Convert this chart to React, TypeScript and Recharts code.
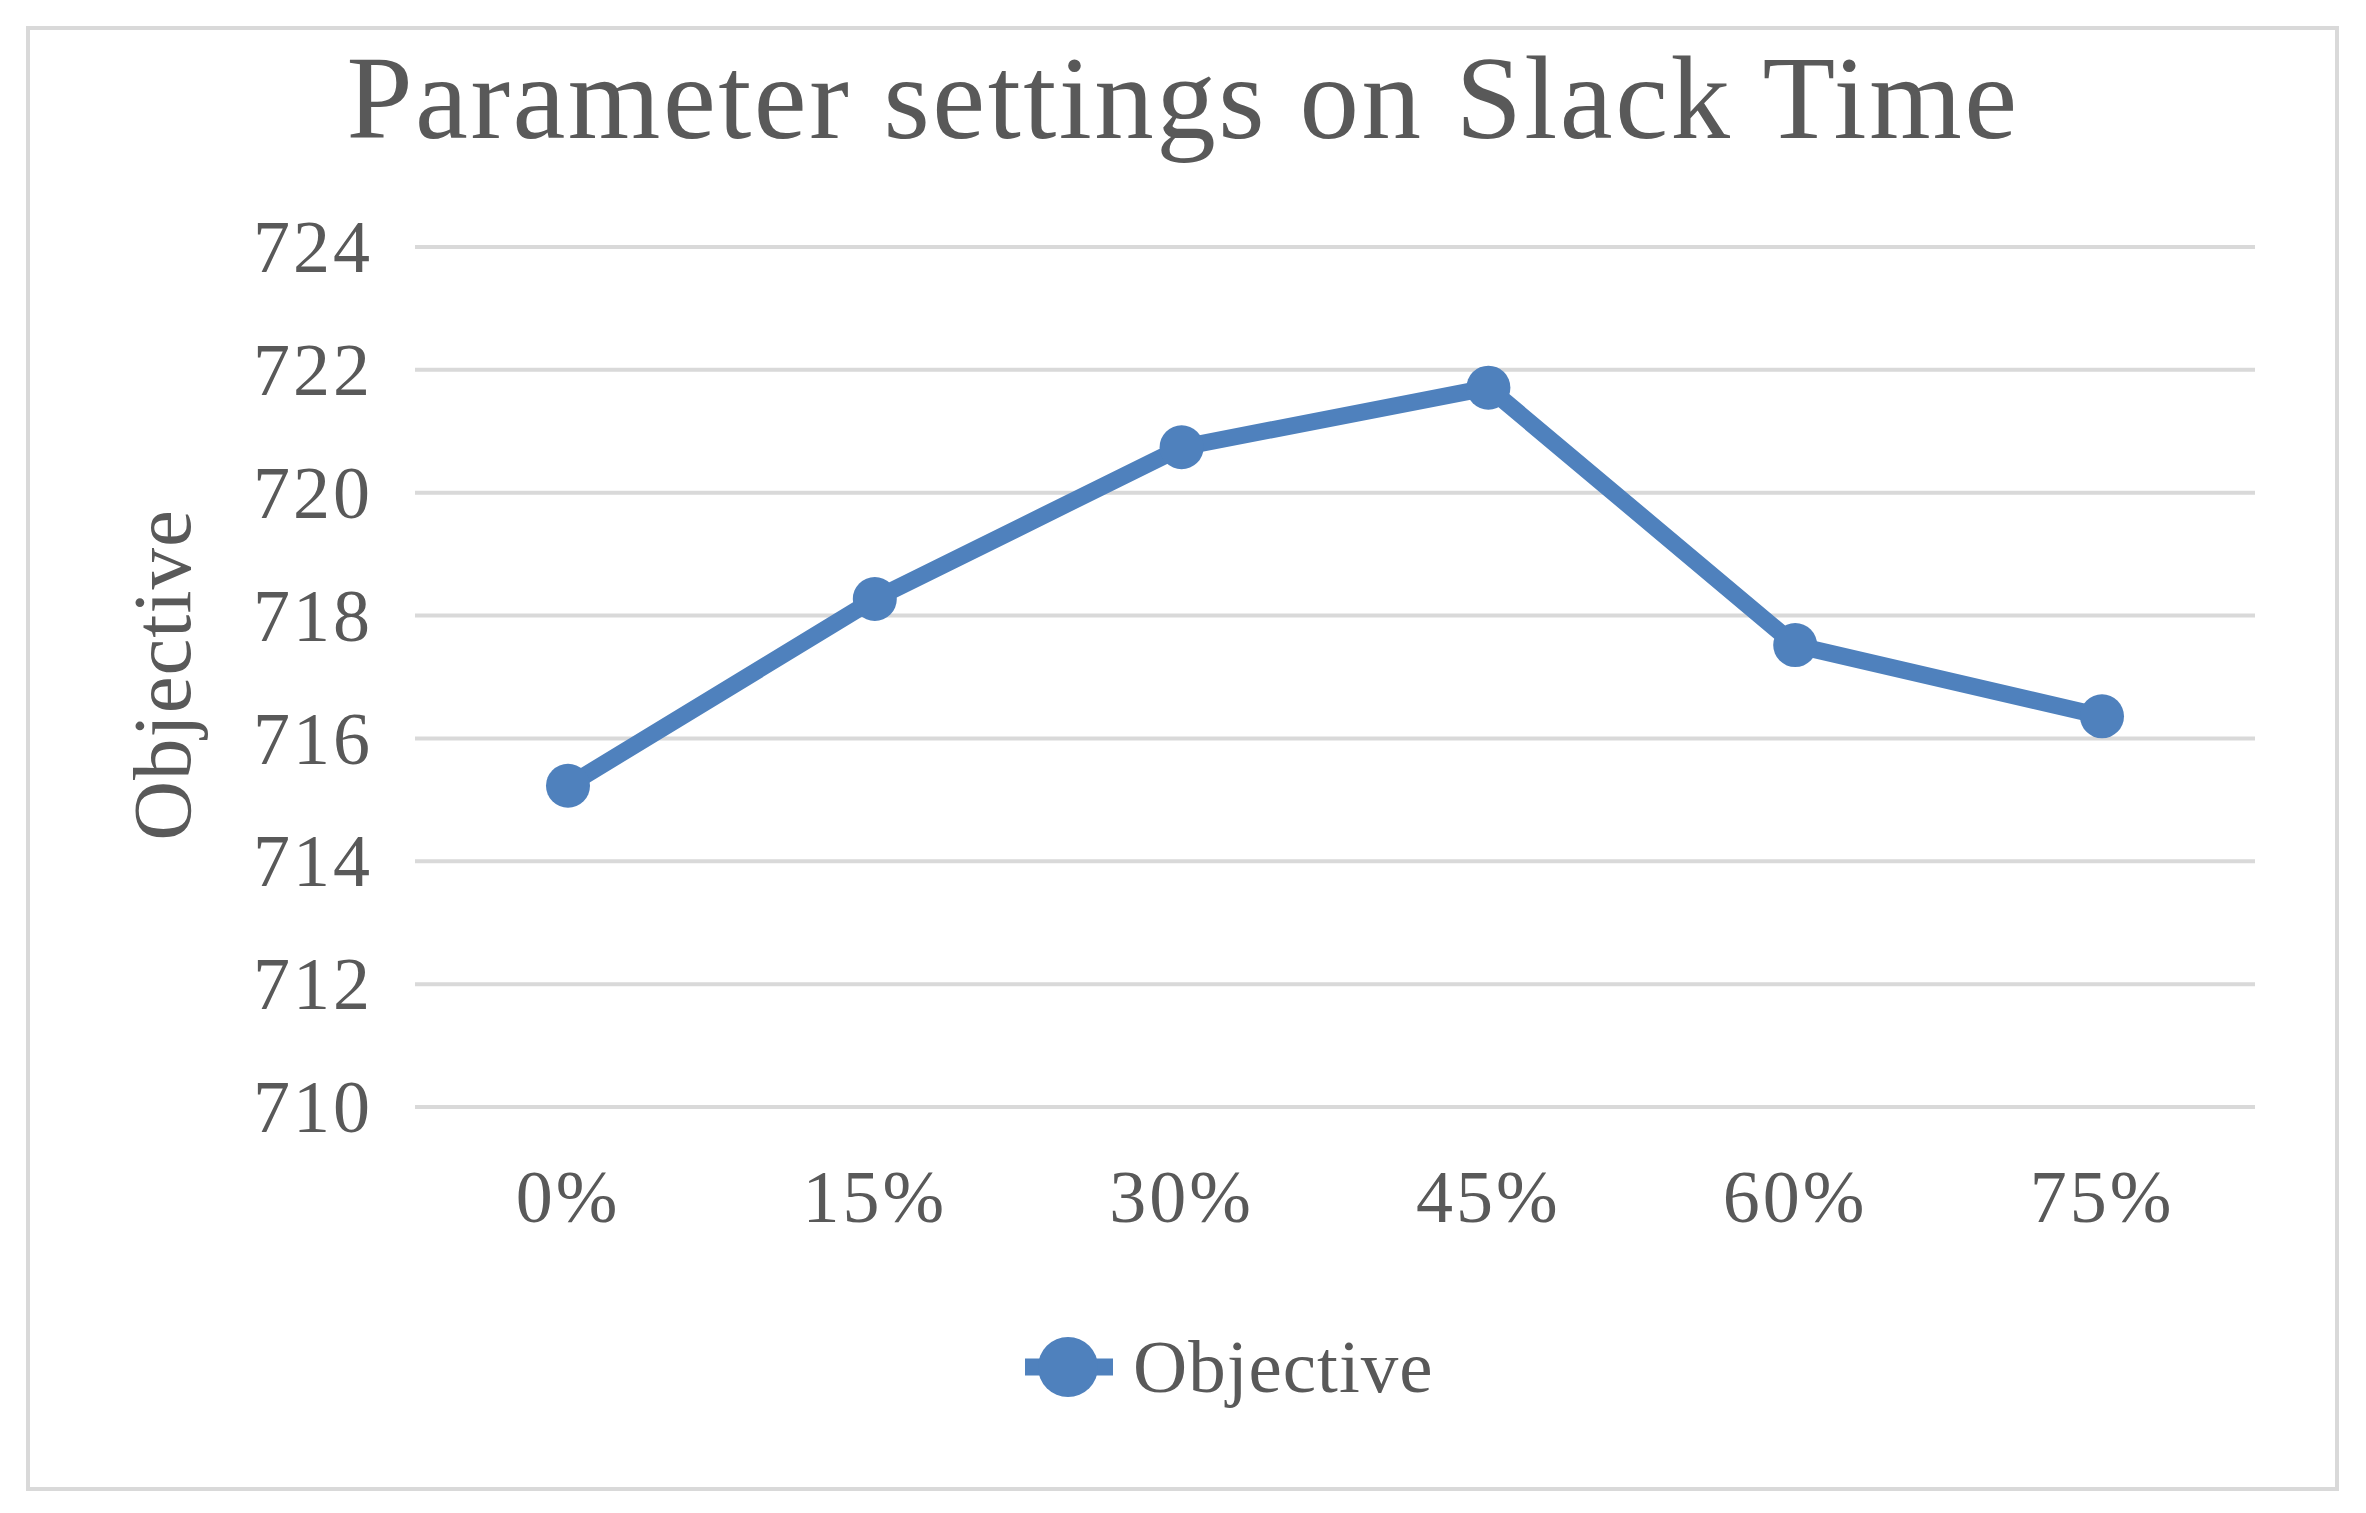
import { LineChart, Line, XAxis, YAxis, CartesianGrid, Legend } from 'recharts';

const categories = ['0%', '15%', '30%', '45%', '60%', '75%'];
const objectiveValues = [715.23, 718.27, 720.74, 721.71, 717.52, 716.36];
const yTicks = [710, 712, 714, 716, 718, 720, 722, 724];

const chartTitle = 'Parameter settings on Slack Time';
const seriesName = 'Objective';
const yAxisTitle = 'Objective';

const data = categories.map((slack, i) => ({ slack, objective: objectiveValues[i] }));

const BLUE = '#4f81bd';
const TEXT = '#595959';
const GRID = '#d9d9d9';
const FONT = '"Liberation Serif", "Times New Roman", serif';

const YTick = (props: any) => {
  const { x, y, payload } = props;
  return (
    <text x={x} y={y} dy="0.34em" textAnchor="end" fill={TEXT} fontSize={74} fontFamily={FONT} letterSpacing={3}>
      {payload.value}
    </text>
  );
};

const XTick = (props: any) => {
  const { x, y, payload } = props;
  return (
    <text x={x} y={y + 115} textAnchor="middle" fill={TEXT} fontSize={74} fontFamily={FONT} letterSpacing={3}>
      {payload.value}
    </text>
  );
};

const LegendContent = (props: any) => {
  const item = props.payload && props.payload[0];
  const color = item ? item.color : BLUE;
  return (
    <svg width={2366} height={100}>
      <line x1={1025} x2={1113} y1={50} y2={50} stroke={color} strokeWidth={17} />
      <circle cx={1068} cy={50} r={30} fill={color} />
      <text x={1133} y={75} fill={TEXT} fontSize={75} fontFamily={FONT} letterSpacing={1}>
        {item ? item.value : seriesName}
      </text>
    </svg>
  );
};

export default function App() {
  return (
    <div style={{ position: 'absolute', left: 0, top: 0, width: 2366, height: 1513, background: '#fff' }}>
      <div
        style={{
          position: 'absolute',
          left: 26,
          top: 26,
          width: 2313,
          height: 1465,
          border: `4px solid ${GRID}`,
          boxSizing: 'border-box',
        }}
      />
      <svg width={2366} height={200} style={{ position: 'absolute', left: 0, top: 0 }}>
        <text x={1183} y={138} textAnchor="middle" fill={TEXT} fontSize={119} fontFamily={FONT} letterSpacing={2.5}>
          {chartTitle}
        </text>
      </svg>
      <div style={{ position: 'absolute', left: 0, top: 0 }}>
        <LineChart width={2366} height={1513} data={data} margin={{ top: 247, right: 111, bottom: 256, left: 0 }}>
          <CartesianGrid vertical={false} stroke={GRID} strokeWidth={4} />
          <XAxis
            dataKey="slack"
            height={150}
            axisLine={false}
            tickLine={false}
            tickSize={0}
            tickMargin={0}
            padding={{ left: 153, right: 153 }}
            tick={<XTick />}
            interval={0}
          />
          <YAxis
            width={415}
            domain={[710, 724]}
            ticks={yTicks}
            axisLine={false}
            tickLine={false}
            tickSize={0}
            tickMargin={42}
            tick={<YTick />}
            interval={0}
            label={{
              content: () => (
                <text
                  x={190}
                  y={675}
                  transform="rotate(-90, 190, 675)"
                  textAnchor="middle"
                  fill={TEXT}
                  fontSize={83}
                  fontFamily={FONT}
                  letterSpacing={1}
                >
                  {yAxisTitle}
                </text>
              ),
            }}
          />
          <Legend
            layout="horizontal"
            verticalAlign="middle"
            align="center"
            content={<LegendContent />}
            wrapperStyle={{ left: 0, top: 1317, width: 2366, height: 100 }}
          />
          <Line
            type="linear"
            dataKey="objective"
            name={seriesName}
            stroke={BLUE}
            strokeWidth={17}
            dot={{ r: 22, fill: BLUE, stroke: BLUE, strokeWidth: 0 }}
            activeDot={false}
            isAnimationActive={false}
          />
        </LineChart>
      </div>
    </div>
  );
}
